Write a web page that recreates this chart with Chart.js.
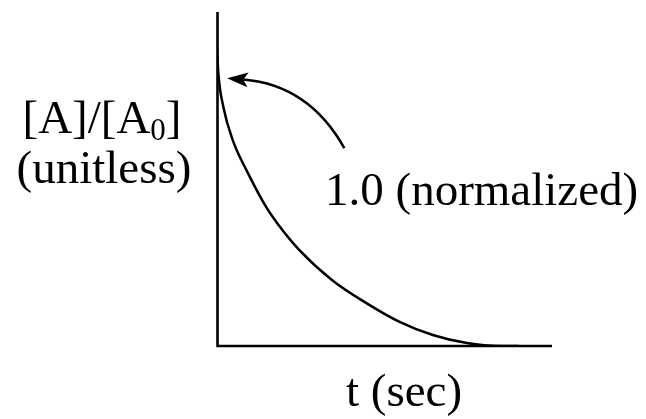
<!DOCTYPE html>
<html>
<head>
<meta charset="utf-8">
<script src="https://cdn.jsdelivr.net/npm/chart.js@4/dist/chart.umd.min.js"></script>
<style>
  html, body { margin: 0; padding: 0; background: #ffffff; }
  #wrap { width: 646px; height: 419px; position: relative; }
</style>
</head>
<body>
<div id="wrap"><canvas id="c" width="646" height="419"></canvas></div>
<script>
// Normalized concentration decay [A]/[A0] against time
const timeValues = [0, 0.04, 0.19, 0.47, 0.92, 1.47, 1.82, 2.46, 3.44, 4.46, 5.45, 6.44, 7.46, 8.44, 9.0];
const concValues = [1.0, 0.916, 0.802, 0.691, 0.581, 0.466, 0.409, 0.322, 0.221, 0.144, 0.081, 0.037, 0.010, 0.0, 0.0];

// Axis ranges (no ticks are drawn)
const timeRange = [0, 10];
const concRange = [0, 1.121];

// Text
const yLabelMain = "[A]/[A";
const yLabelSub = "0";
const yLabelEnd = "]";
const yLabelUnits = "(unitless)";
const xLabel = "t (sec)";
const startNote = "1.0 (normalized)";

// Callout arrow in data units: tail, bend control, tip (points at the t = 0 start)
const arrowTail = { x: 3.80, y: 0.664 };
const arrowCtrl = { x: 2.75, y: 0.876 };
const arrowTip  = { x: 0.30, y: 0.899 };

const FONT = "'Liberation Serif', 'Times New Roman', serif";

const decorations = {
  id: 'decorations',
  afterDatasetsDraw(chart) {
    const ctx = chart.ctx;
    const area = chart.chartArea;
    const xs = chart.scales.x, ys = chart.scales.y;
    ctx.save();

    // axes: left and bottom lines
    ctx.strokeStyle = '#000';
    ctx.lineWidth = 2.6;
    ctx.lineCap = 'butt';
    ctx.beginPath();
    ctx.moveTo(area.left + 0.5, area.top);
    ctx.lineTo(area.left + 0.5, area.bottom + 1.3);
    ctx.moveTo(area.left - 0.8, area.bottom);
    ctx.lineTo(area.right, area.bottom);
    ctx.stroke();

    // callout arrow
    const tx = xs.getPixelForValue(arrowTip.x), ty = ys.getPixelForValue(arrowTip.y);
    const cx = xs.getPixelForValue(arrowCtrl.x), cy = ys.getPixelForValue(arrowCtrl.y);
    const sx = xs.getPixelForValue(arrowTail.x), sy = ys.getPixelForValue(arrowTail.y);
    const ang = Math.atan2(ty - cy, tx - cx);
    const headLen = 21, headHalf = 7.5;
    const bx = tx - headLen * Math.cos(ang) * 0.78, by = ty - headLen * Math.sin(ang) * 0.78;
    ctx.lineWidth = 2.5;
    ctx.beginPath();
    ctx.moveTo(sx, sy);
    ctx.quadraticCurveTo(cx, cy, bx, by);
    ctx.stroke();
    const px = -Math.sin(ang), py = Math.cos(ang);
    const rx = tx - headLen * Math.cos(ang), ry = ty - headLen * Math.sin(ang);
    ctx.fillStyle = '#000';
    ctx.beginPath();
    ctx.moveTo(tx, ty);
    ctx.lineTo(rx + px * headHalf, ry + py * headHalf);
    ctx.lineTo(bx, by);
    ctx.lineTo(rx - px * headHalf, ry - py * headHalf);
    ctx.closePath();
    ctx.fill();

    // labels
    ctx.fillStyle = '#000';
    ctx.textBaseline = 'alphabetic';
    const main = '47px ' + FONT, sub = '31px ' + FONT;
    ctx.font = main;
    const w1 = ctx.measureText(yLabelMain).width;
    const w3 = ctx.measureText(yLabelEnd).width;
    ctx.font = sub;
    const w2 = ctx.measureText(yLabelSub).width;
    const yCenter = 102;
    let lx = yCenter - (w1 + w2 + w3) / 2;
    ctx.textAlign = 'left';
    ctx.font = main;
    ctx.fillText(yLabelMain, lx, 133);
    ctx.font = sub;
    ctx.fillText(yLabelSub, lx + w1, 140);
    ctx.font = main;
    ctx.fillText(yLabelEnd, lx + w1 + w2, 133);

    ctx.textAlign = 'center';
    ctx.fillText(yLabelUnits, 104, 183);

    ctx.textAlign = 'left';
    ctx.fillText(startNote, 325, 205);
    ctx.fillText(xLabel, 346, 406);

    ctx.restore();
  }
};

new Chart(document.getElementById('c'), {
  type: 'line',
  data: {
    datasets: [{
      data: timeValues.map((t, i) => ({ x: t, y: concValues[i] })),
      borderColor: '#000',
      borderWidth: 2.5,
      pointRadius: 0,
      fill: false,
      cubicInterpolationMode: 'monotone'
    }]
  },
  options: {
    responsive: false,
    animation: false,
    events: [],
    layout: { padding: { left: 217, right: 94, top: 12, bottom: 73 } },
    plugins: { legend: { display: false }, tooltip: { enabled: false } },
    scales: {
      x: { type: 'linear', display: false, min: timeRange[0], max: timeRange[1] },
      y: { type: 'linear', display: false, min: concRange[0], max: concRange[1] }
    }
  },
  plugins: [decorations]
});
</script>
</body>
</html>
